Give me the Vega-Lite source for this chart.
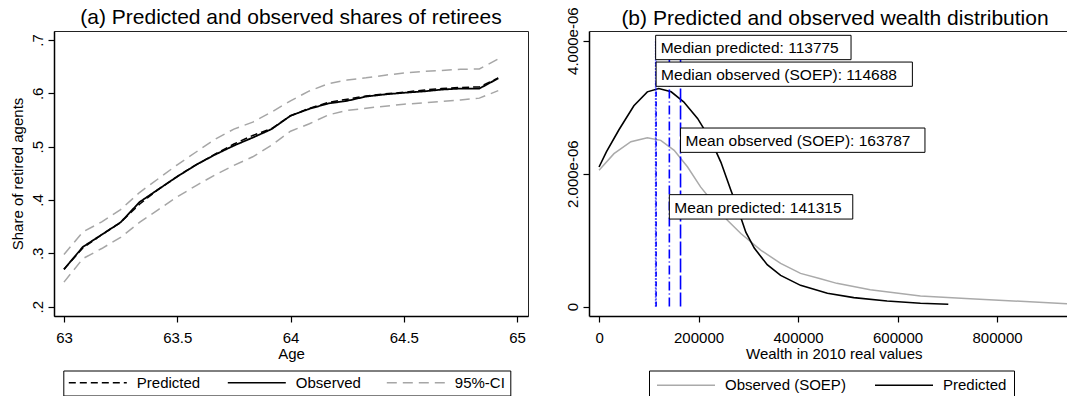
{
  "$schema": "https://vega.github.io/schema/vega-lite/v6.json",
  "autosize": {"type": "pad"},
  "padding": {"left": 10, "top": 6, "right": 0, "bottom": 0},
  "spacing": 61,
  "bounds": "flush",
  "resolve": {
    "scale": {"x": "independent", "y": "independent", "color": "independent", "strokeDash": "independent"},
    "legend": {"color": "independent", "strokeDash": "independent"}
  },
  "config": {
    "font": "Liberation Sans",
    "view": {"stroke": "#222222", "strokeWidth": 1},
    "axis": {
      "grid": false, "domainColor": "#000000", "domainWidth": 1.5,
      "tickColor": "#000000", "tickWidth": 1.2, "tickSize": 6,
      "labelFontSize": 15, "labelColor": "#000000",
      "titleFontSize": 15, "titleColor": "#000000", "titleFontWeight": "normal",
      "labelOverlap": false, "labelFlush": false
    },
    "title": {"fontSize": 21, "fontWeight": "normal", "color": "#000000", "anchor": "middle", "baseline": "alphabetic", "offset": 2.8},
    "legend": {
      "strokeColor": "#000000", "fillColor": "#ffffff", "padding": 4.5,
      "symbolType": "stroke", "symbolSize": 3364, "symbolStrokeWidth": 1.5,
      "labelFontSize": 15, "labelColor": "#000000", "labelOffset": 9,
      "clipHeight": 15, "labelLimit": 400
    }
  },
  "hconcat": [
    {
      "width": 474,
      "height": 285,
      "title": {"text": "(a) Predicted and observed shares of retirees"},
      "data": {"values": [
        {"a": 63.0, "obs": 0.270, "pred": 0.270, "hi": 0.298, "lo": 0.246},
        {"a": 63.0833, "obs": 0.312, "pred": 0.310, "hi": 0.340, "lo": 0.290},
        {"a": 63.1667, "obs": 0.335, "pred": 0.335, "hi": 0.359, "lo": 0.309},
        {"a": 63.25, "obs": 0.358, "pred": 0.358, "hi": 0.382, "lo": 0.330},
        {"a": 63.3333, "obs": 0.396, "pred": 0.392, "hi": 0.414, "lo": 0.358},
        {"a": 63.4167, "obs": 0.420, "pred": 0.420, "hi": 0.440, "lo": 0.382},
        {"a": 63.5, "obs": 0.444, "pred": 0.444, "hi": 0.466, "lo": 0.406},
        {"a": 63.5833, "obs": 0.466, "pred": 0.466, "hi": 0.490, "lo": 0.427},
        {"a": 63.6667, "obs": 0.485, "pred": 0.486, "hi": 0.514, "lo": 0.447},
        {"a": 63.75, "obs": 0.502, "pred": 0.505, "hi": 0.533, "lo": 0.465},
        {"a": 63.8333, "obs": 0.517, "pred": 0.521, "hi": 0.546, "lo": 0.481},
        {"a": 63.9167, "obs": 0.533, "pred": 0.534, "hi": 0.565, "lo": 0.503},
        {"a": 64.0, "obs": 0.558, "pred": 0.558, "hi": 0.586, "lo": 0.529},
        {"a": 64.0833, "obs": 0.571, "pred": 0.572, "hi": 0.6045, "lo": 0.543},
        {"a": 64.1667, "obs": 0.581, "pred": 0.583, "hi": 0.618, "lo": 0.5595},
        {"a": 64.25, "obs": 0.586, "pred": 0.589, "hi": 0.625, "lo": 0.568},
        {"a": 64.3333, "obs": 0.594, "pred": 0.595, "hi": 0.629, "lo": 0.572},
        {"a": 64.4167, "obs": 0.598, "pred": 0.599, "hi": 0.634, "lo": 0.576},
        {"a": 64.5, "obs": 0.601, "pred": 0.602, "hi": 0.638, "lo": 0.5795},
        {"a": 64.5833, "obs": 0.6035, "pred": 0.606, "hi": 0.641, "lo": 0.582},
        {"a": 64.6667, "obs": 0.607, "pred": 0.609, "hi": 0.643, "lo": 0.585},
        {"a": 64.75, "obs": 0.609, "pred": 0.611, "hi": 0.645, "lo": 0.5875},
        {"a": 64.8333, "obs": 0.609, "pred": 0.612, "hi": 0.6457, "lo": 0.591},
        {"a": 64.9167, "obs": 0.628, "pred": 0.629, "hi": 0.6645, "lo": 0.605}
      ]},
      "encoding": {
        "x": {
          "field": "a", "type": "quantitative",
          "scale": {"domain": [62.956, 65.048], "nice": false, "zero": false},
          "axis": {"orient": "bottom", "values": [63, 63.5, 64, 64.5, 65], "format": "~g", "labelPadding": 8, "title": "Age", "titleBaseline": "alphabetic", "titleY": 42, "titleAlign": "center"}
        }
      },
      "layer": [
        {
          "mark": {"type": "line", "strokeWidth": 1.5},
          "encoding": {
            "y": {
              "field": "hi", "type": "quantitative",
              "scale": {"domain": [0.18248, 0.71688], "nice": false, "zero": false},
              "axis": {"orient": "left", "values": [0.2, 0.3, 0.4, 0.5, 0.6, 0.7], "labelExpr": "replace(format(datum.value, '.1f'), '0.', '.')", "labelAngle": 270, "labelAlign": "center", "labelBaseline": "alphabetic", "labelPadding": 6, "title": "Share of retired agents", "titleAngle": 270, "titleBaseline": "alphabetic", "titleAlign": "center", "titleX": -31.2, "titleY": 142.5}
            },
            "color": {"datum": "95%-CI", "type": "nominal", "scale": {"domain": ["Predicted", "Observed", "95%-CI"], "range": ["#000000", "#000000", "#a6a6a6"]}, "legend": {"title": null, "orient": "none", "legendX": 9.3, "legendY": 339.5, "direction": "horizontal", "columns": 3, "gridAlign": "all", "columnPadding": 24}},
            "strokeDash": {"datum": "95%-CI", "type": "nominal", "scale": {"domain": ["Predicted", "Observed", "95%-CI"], "range": [[7, 4], [1, 0], [10, 6]]}, "legend": {"title": null, "orient": "none", "legendX": 9.3, "legendY": 339.5, "direction": "horizontal", "columns": 3, "gridAlign": "all", "columnPadding": 24}}
          }
        },
        {
          "mark": {"type": "line", "strokeWidth": 1.5},
          "encoding": {
            "y": {"field": "lo", "type": "quantitative",
              "axis": {"orient": "left", "values": [0.2, 0.3, 0.4, 0.5, 0.6, 0.7], "labelExpr": "replace(format(datum.value, '.1f'), '0.', '.')", "labelAngle": 270, "labelAlign": "center", "labelBaseline": "alphabetic", "labelPadding": 6, "title": "Share of retired agents", "titleAngle": 270, "titleBaseline": "alphabetic", "titleAlign": "center", "titleX": -31.2, "titleY": 142.5}},
            "color": {"datum": "95%-CI", "type": "nominal"},
            "strokeDash": {"datum": "95%-CI", "type": "nominal"}
          }
        },
        {
          "mark": {"type": "line", "strokeWidth": 1.8},
          "encoding": {
            "y": {"field": "obs", "type": "quantitative",
              "axis": {"orient": "left", "values": [0.2, 0.3, 0.4, 0.5, 0.6, 0.7], "labelExpr": "replace(format(datum.value, '.1f'), '0.', '.')", "labelAngle": 270, "labelAlign": "center", "labelBaseline": "alphabetic", "labelPadding": 6, "title": "Share of retired agents", "titleAngle": 270, "titleBaseline": "alphabetic", "titleAlign": "center", "titleX": -31.2, "titleY": 142.5}},
            "color": {"datum": "Observed", "type": "nominal"},
            "strokeDash": {"datum": "Observed", "type": "nominal"}
          }
        },
        {
          "mark": {"type": "line", "strokeWidth": 1.5},
          "encoding": {
            "y": {"field": "pred", "type": "quantitative",
              "axis": {"orient": "left", "values": [0.2, 0.3, 0.4, 0.5, 0.6, 0.7], "labelExpr": "replace(format(datum.value, '.1f'), '0.', '.')", "labelAngle": 270, "labelAlign": "center", "labelBaseline": "alphabetic", "labelPadding": 6, "title": "Share of retired agents", "titleAngle": 270, "titleBaseline": "alphabetic", "titleAlign": "center", "titleX": -31.2, "titleY": 142.5}},
            "color": {"datum": "Predicted", "type": "nominal"},
            "strokeDash": {"datum": "Predicted", "type": "nominal"}
          }
        }
      ]
    },
    {
      "width": 478,
      "height": 285,
      "title": {"text": "(b) Predicted and observed wealth distribution", "dx": 7, "dy": 24.8},
      "view": {"stroke": null},
      "resolve": {"axis": {"x": "independent"}},
      "layer": [
        {
          "data": {"values": [
            {"w": 0, "d": 2.05e-6}, {"w": 30000, "d": 2.30e-6}, {"w": 64000, "d": 2.48e-6},
            {"w": 97000, "d": 2.54e-6}, {"w": 124000, "d": 2.50e-6}, {"w": 151000, "d": 2.35e-6},
            {"w": 178000, "d": 2.10e-6}, {"w": 204000, "d": 1.80e-6}, {"w": 231000, "d": 1.55e-6},
            {"w": 258000, "d": 1.30e-6}, {"w": 285000, "d": 1.10e-6}, {"w": 325000, "d": 0.85e-6},
            {"w": 365000, "d": 0.65e-6}, {"w": 405000, "d": 0.50e-6}, {"w": 445000, "d": 0.42e-6},
            {"w": 478000, "d": 0.35e-6}, {"w": 545000, "d": 0.255e-6}, {"w": 646000, "d": 0.16e-6},
            {"w": 746000, "d": 0.12e-6}, {"w": 847000, "d": 0.08e-6}, {"w": 940600, "d": 0.045e-6}
          ]},
          "mark": {"type": "line", "strokeWidth": 1.5, "clip": true},
          "encoding": {
            "x": {
              "field": "w", "type": "quantitative",
              "scale": {"domain": [-20200, 940600], "nice": false, "zero": false},
              "axis": {"orient": "bottom", "values": [0, 200000, 400000, 600000, 800000], "format": "d", "labelPadding": 8, "title": "Wealth in 2010 real values", "titleBaseline": "alphabetic", "titleY": 42, "titleX": 244.8, "titleAlign": "center"}
            },
            "y": {
              "field": "d", "type": "quantitative",
              "scale": {"domain": [-1.41e-7, 4.145e-6], "nice": false, "zero": false},
              "axis": {"orient": "left", "values": [0, 2e-6, 4e-6], "labelExpr": "datum.value == 0 ? '0' : replace(format(datum.value, '.3e'), 'e-', 'e-0')", "labelAngle": 270, "labelAlign": "center", "labelBaseline": "alphabetic", "labelPadding": 6, "title": null}
            },
            "color": {"datum": "Observed (SOEP)", "type": "nominal", "scale": {"domain": ["Observed (SOEP)", "Predicted"], "range": ["#aaaaaa", "#000000"]}, "legend": {"title": null, "orient": "none", "legendX": 60, "legendY": 339.5, "direction": "horizontal", "columns": 2, "gridAlign": "each", "columnPadding": 28, "padding": 7}}
          }
        },
        {
          "data": {"values": [
            {"w": 0, "d": 2.10e-6}, {"w": 15000, "d": 2.33e-6}, {"w": 40000, "d": 2.66e-6},
            {"w": 70000, "d": 3.02e-6}, {"w": 97000, "d": 3.23e-6}, {"w": 120000, "d": 3.28e-6},
            {"w": 145000, "d": 3.23e-6}, {"w": 170000, "d": 3.08e-6}, {"w": 198000, "d": 2.83e-6},
            {"w": 225000, "d": 2.50e-6}, {"w": 245000, "d": 2.17e-6}, {"w": 265000, "d": 1.75e-6},
            {"w": 280000, "d": 1.45e-6}, {"w": 295000, "d": 1.12e-6}, {"w": 312000, "d": 0.88e-6},
            {"w": 338000, "d": 0.63e-6}, {"w": 365000, "d": 0.47e-6}, {"w": 405000, "d": 0.32e-6},
            {"w": 459000, "d": 0.20e-6}, {"w": 512000, "d": 0.135e-6}, {"w": 579000, "d": 0.085e-6},
            {"w": 646000, "d": 0.05e-6}, {"w": 702000, "d": 0.035e-6}
          ]},
          "mark": {"type": "line", "strokeWidth": 1.6, "clip": true},
          "encoding": {
            "x": {"field": "w", "type": "quantitative", "axis": null},
            "y": {"field": "d", "type": "quantitative",
              "axis": {"orient": "left", "values": [0, 2e-6, 4e-6], "labelExpr": "datum.value == 0 ? '0' : replace(format(datum.value, '.3e'), 'e-', 'e-0')", "labelAngle": 270, "labelAlign": "center", "labelBaseline": "alphabetic", "labelPadding": 6, "title": null}},
            "color": {"datum": "Predicted", "type": "nominal"}
          }
        },
        {
          "data": {"values": [
            {"n": "Median predicted", "v": 113775},
            {"n": "Median observed (SOEP)", "v": 114688},
            {"n": "Mean predicted", "v": 141315},
            {"n": "Mean observed (SOEP)", "v": 163787}
          ]},
          "mark": {"type": "rule", "color": "#0000ff", "strokeWidth": 1.6},
          "encoding": {
            "x": {"field": "v", "type": "quantitative", "axis": null},
            "y": {"datum": 0, "type": "quantitative",
              "axis": {"orient": "left", "values": [0, 2e-6, 4e-6], "labelExpr": "datum.value == 0 ? '0' : replace(format(datum.value, '.3e'), 'e-', 'e-0')", "labelAngle": 270, "labelAlign": "center", "labelBaseline": "alphabetic", "labelPadding": 6, "title": null}},
            "y2": {"datum": 4.02e-6},
            "strokeDash": {"field": "n", "type": "nominal", "scale": {"domain": ["Median predicted", "Median observed (SOEP)", "Mean predicted", "Mean observed (SOEP)"], "range": [[1, 2], [5, 2, 1, 2], [9, 3, 1, 3], [14, 3]]}, "legend": null}
          }
        },
        {
          "data": {"name": "boxes", "values": [
            {"t": "Median predicted: 113775", "x": 113775, "x2": 506500, "y": 3.714e-6, "y2": 4.080e-6, "ym": 3.897e-6},
            {"t": "Median observed (SOEP): 114688", "x": 114688, "x2": 629800, "y": 3.313e-6, "y2": 3.678e-6, "ym": 3.4955e-6},
            {"t": "Mean observed (SOEP): 163787", "x": 163787, "x2": 655100, "y": 2.320e-6, "y2": 2.686e-6, "ym": 2.503e-6},
            {"t": "Mean predicted: 141315", "x": 141315, "x2": 510000, "y": 1.317e-6, "y2": 1.684e-6, "ym": 1.5005e-6}
          ]},
          "mark": {"type": "rect", "fill": "#ffffff", "stroke": "#000000", "strokeWidth": 1},
          "encoding": {
            "x": {"field": "x", "type": "quantitative", "axis": {"orient": "top", "ticks": false, "labels": false, "title": null, "grid": false, "domainWidth": 1, "domainColor": "#222222", "minExtent": 0, "maxExtent": 0, "offset": 0}},
            "x2": {"field": "x2"},
            "y": {"field": "y", "type": "quantitative",
              "axis": {"orient": "left", "values": [0, 2e-6, 4e-6], "labelExpr": "datum.value == 0 ? '0' : replace(format(datum.value, '.3e'), 'e-', 'e-0')", "labelAngle": 270, "labelAlign": "center", "labelBaseline": "alphabetic", "labelPadding": 6, "title": null}},
            "y2": {"field": "y2"}
          }
        },
        {
          "data": {"name": "boxes"},
          "mark": {"type": "text", "align": "left", "baseline": "middle", "dx": 5, "dy": 1, "fontSize": 15.5, "color": "#000000"},
          "encoding": {
            "x": {"field": "x", "type": "quantitative", "axis": null},
            "y": {"field": "ym", "type": "quantitative",
              "axis": {"orient": "left", "values": [0, 2e-6, 4e-6], "labelExpr": "datum.value == 0 ? '0' : replace(format(datum.value, '.3e'), 'e-', 'e-0')", "labelAngle": 270, "labelAlign": "center", "labelBaseline": "alphabetic", "labelPadding": 6, "title": null}},
            "text": {"field": "t"}
          }
        }
      ]
    }
  ]
}
